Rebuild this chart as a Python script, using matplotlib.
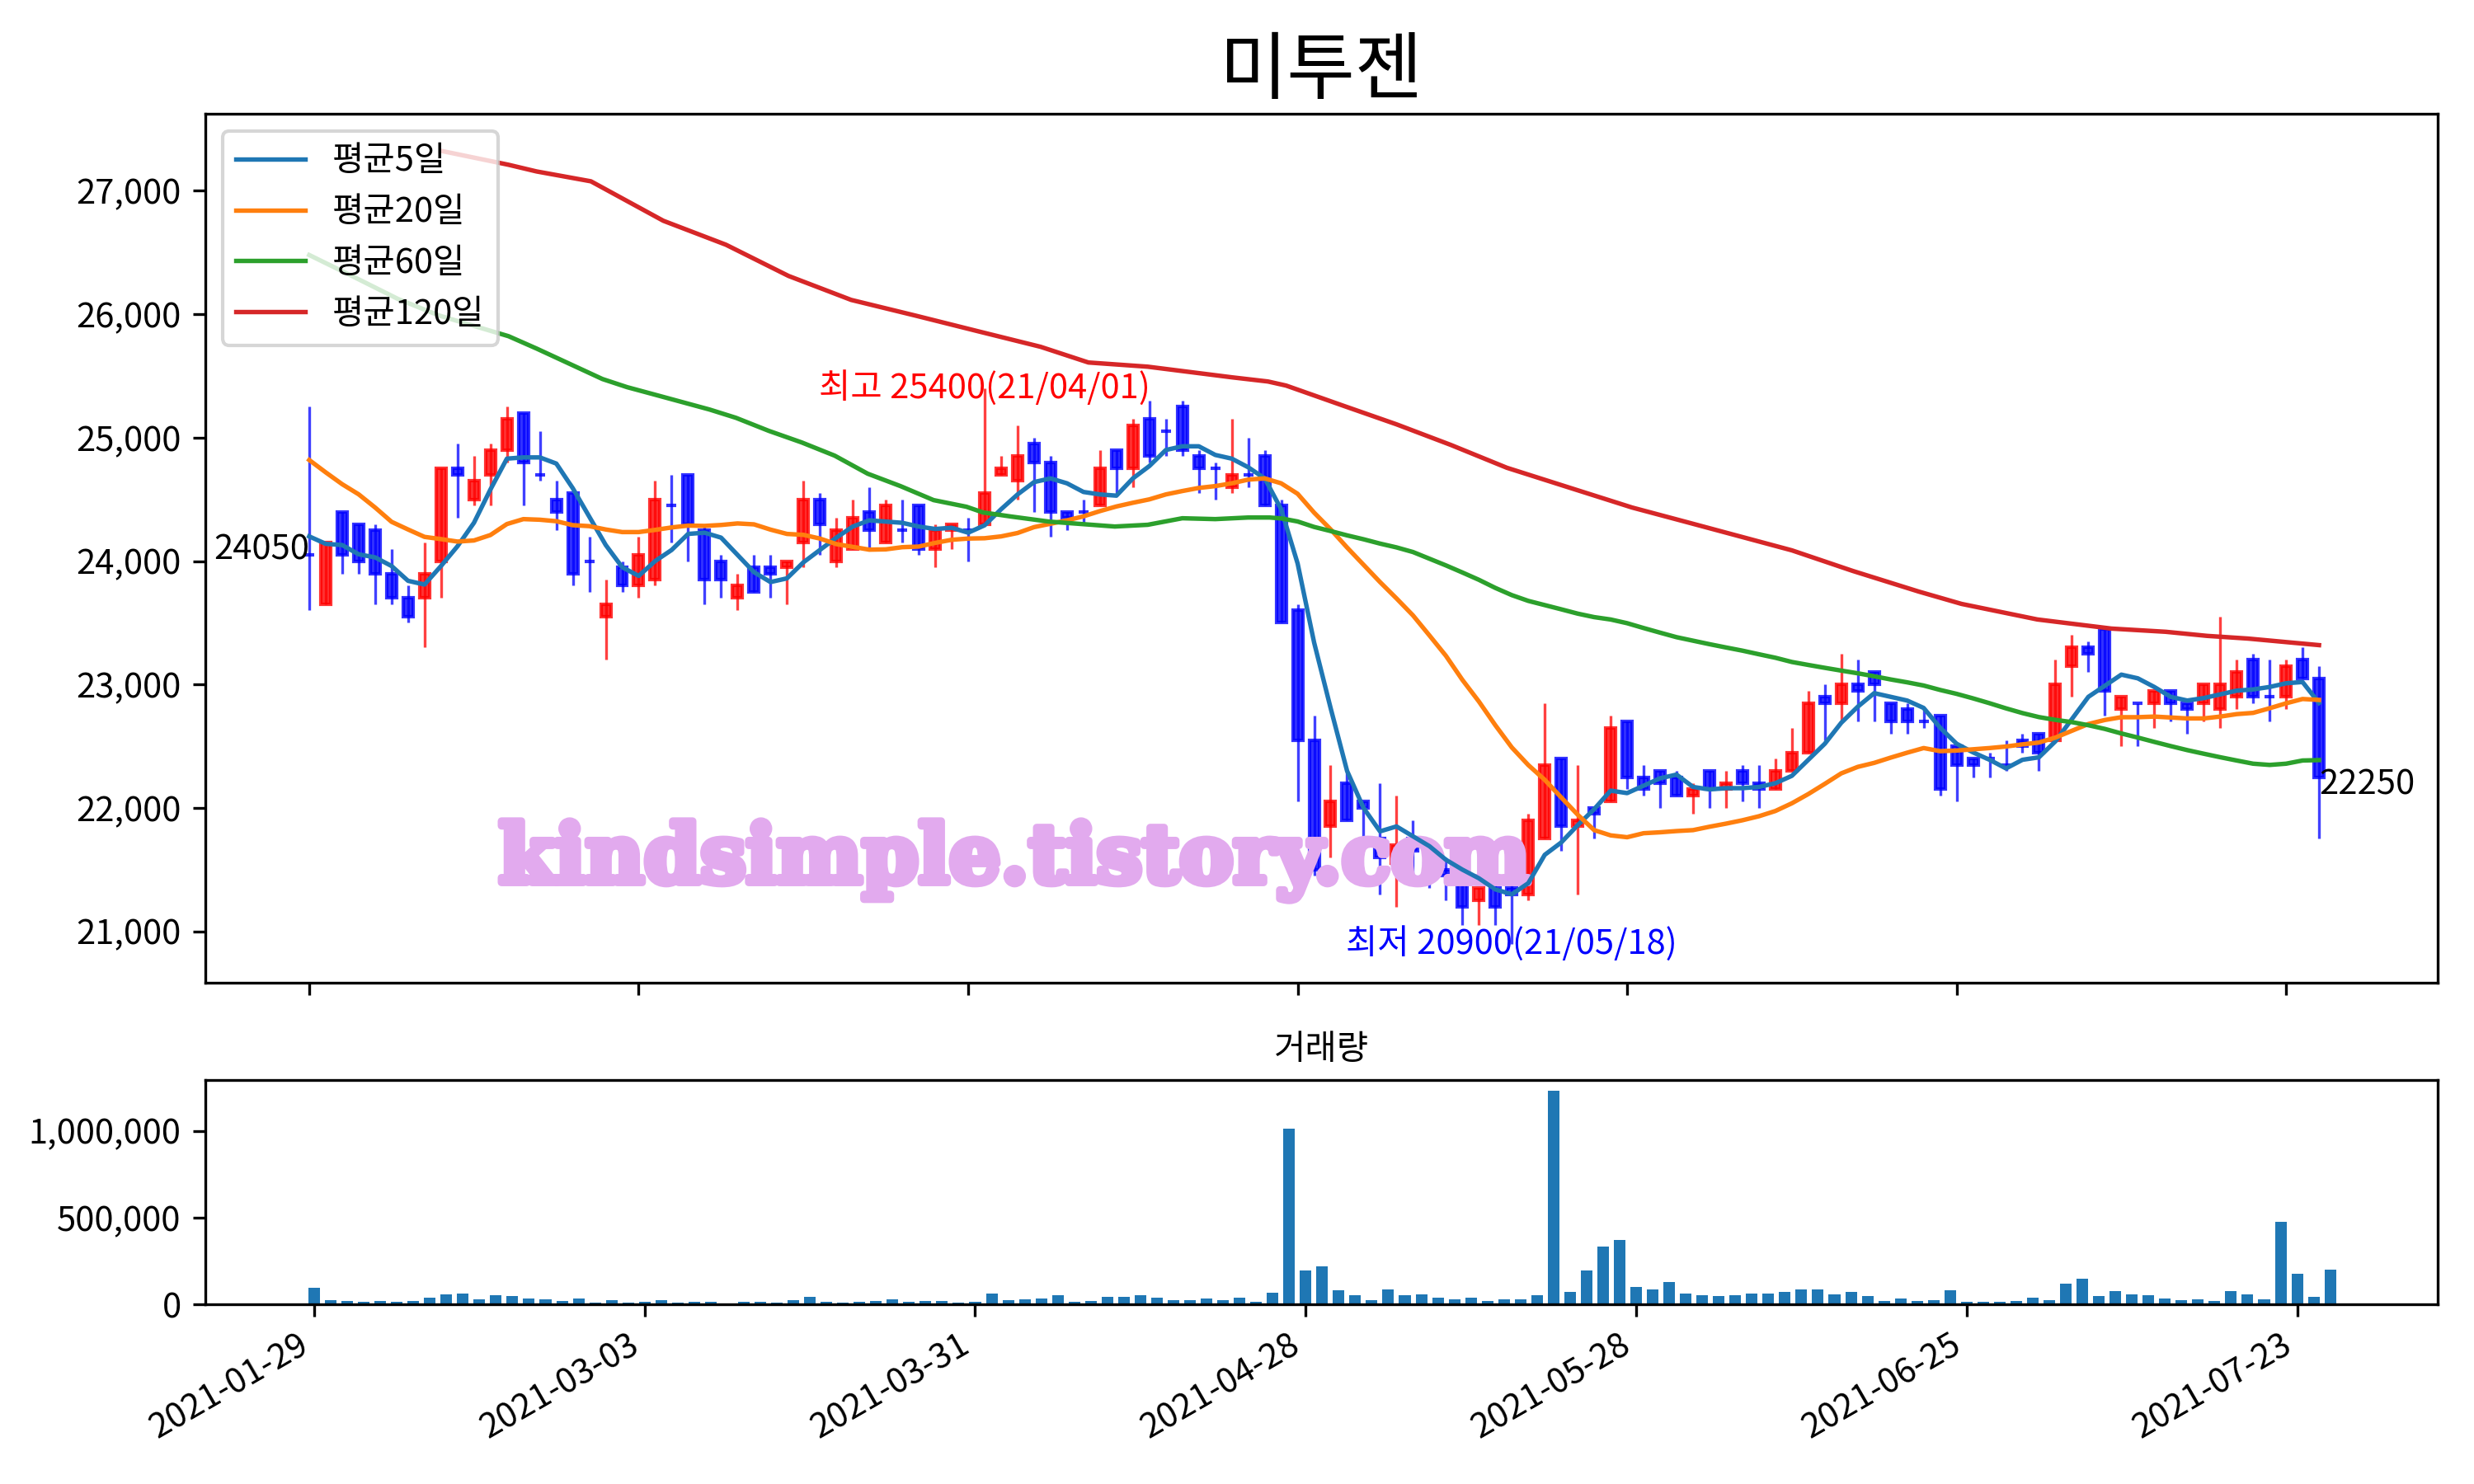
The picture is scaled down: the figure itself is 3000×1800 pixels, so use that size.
import matplotlib
matplotlib.use('Agg')
import matplotlib.pyplot as plt
import matplotlib.patheffects as pe
import numpy as np
import pandas as pd
from matplotlib.ticker import FuncFormatter

plt.rcParams['font.family'] = ['Noto Sans CJK KR', 'DejaVu Sans']
plt.rcParams['axes.unicode_minus'] = False

title = '미투젠'
vol_title = '거래량'
tick_pos = [0, 20, 40, 60, 80, 100, 120]
tick_labels = ['2021-01-29', '2021-03-03', '2021-03-31', '2021-04-28',
               '2021-05-28', '2021-06-25', '2021-07-23']

opens = [24050, 23650, 24400, 24300, 24250, 23900, 23700, 23700, 24000, 24750,
         24500, 24700, 24900, 25200, 24700, 24500, 24550, 24000, 23550, 23950,
         23800, 23850, 24450, 24700, 24250, 24000, 23700, 23950, 23950, 23950,
         24150, 24500, 24000, 24100, 24400, 24150, 24250, 24450, 24100, 24250,
         24250, 24300, 24700, 24650, 24950, 24800, 24400, 24400, 24450, 24900,
         24750, 25150, 25050, 25250, 24850, 24750, 24600, 24700, 24850, 24450,
         23600, 22550, 21850, 22200, 22050, 21750, 21550, 21750, 21550, 21500,
         21400, 21250, 21350, 21350, 21300, 21750, 22400, 21850, 22000, 22050,
         22700, 22250, 22300, 22250, 22100, 22300, 22150, 22300, 22200, 22150,
         22300, 22450, 22900, 22850, 23000, 23100, 22850, 22800, 22700, 22750,
         22500, 22400, 22400, 22350, 22550, 22600, 22550, 23150, 23300, 23450,
         22800, 22850, 22850, 22950, 22850, 22850, 22800, 22900, 23200, 22900,
         22900, 23200, 23050]

highs = [25250, 24150, 24400, 24300, 24300, 24100, 23800, 24150, 24750, 24950,
         24850, 24950, 25250, 25200, 25050, 24650, 24550, 24200, 23850, 24000,
         24200, 24650, 24700, 24700, 24300, 24050, 23900, 24050, 24050, 24000,
         24650, 24550, 24350, 24500, 24600, 24500, 24500, 24450, 24300, 24300,
         24350, 25400, 24850, 25100, 25000, 24850, 24400, 24500, 24900, 24900,
         25150, 25300, 25150, 25300, 24900, 24800, 25150, 25000, 24900, 24500,
         23650, 22750, 22350, 22300, 22050, 22200, 22100, 21900, 21700, 21600,
         21450, 21350, 21400, 21400, 21950, 22850, 22400, 22350, 22000, 22750,
         22700, 22350, 22300, 22300, 22200, 22300, 22300, 22350, 22350, 22400,
         22650, 22950, 23000, 23250, 23200, 23100, 22850, 22850, 22800, 22750,
         22500, 22400, 22450, 22550, 22600, 22600, 23200, 23400, 23350, 23450,
         22900, 22850, 22950, 22950, 22850, 23000, 23550, 23200, 23250, 23200,
         23200, 23300, 23150]

lows = [23600, 23650, 23900, 23900, 23650, 23650, 23500, 23300, 23700, 24350,
        24450, 24450, 24800, 24450, 24650, 24250, 23800, 23750, 23200, 23750,
        23700, 23800, 24150, 24000, 23650, 23700, 23600, 23750, 23700, 23650,
        23950, 24050, 23950, 24100, 24100, 24150, 24150, 24050, 23950, 24100,
        24000, 24300, 24700, 24500, 24400, 24200, 24250, 24300, 24450, 24550,
        24600, 24800, 24850, 24850, 24550, 24500, 24550, 24600, 24450, 23500,
        22050, 21450, 21600, 21900, 21650, 21300, 21200, 21450, 21350, 21250,
        21050, 21050, 21050, 20900, 21250, 21750, 21650, 21300, 21750, 22050,
        22150, 22100, 22000, 22100, 21950, 22000, 22000, 22050, 22000, 22150,
        22300, 22450, 22550, 22700, 22700, 22700, 22600, 22600, 22650, 22100,
        22050, 22250, 22250, 22300, 22450, 22300, 22550, 22900, 23100, 22750,
        22500, 22500, 22650, 22700, 22600, 22700, 22650, 22800, 22850, 22700,
        22800, 23050, 21750]

closes = [24050, 24150, 24050, 24000, 23900, 23700, 23550, 23900, 24750, 24700,
          24650, 24900, 25150, 24800, 24700, 24400, 23900, 24000, 23650, 23800,
          24050, 24500, 24450, 24300, 23850, 23850, 23800, 23750, 23900, 24000,
          24500, 24300, 24250, 24350, 24250, 24450, 24250, 24100, 24250, 24300,
          24250, 24550, 24750, 24850, 24800, 24400, 24350, 24400, 24750, 24750,
          25100, 24850, 25050, 24900, 24750, 24750, 24700, 24700, 24450, 23500,
          22550, 21500, 22050, 21900, 22000, 21600, 21700, 21650, 21500, 21450,
          21200, 21350, 21200, 21300, 21900, 22350, 21850, 21900, 21950, 22650,
          22250, 22150, 22200, 22100, 22150, 22150, 22200, 22200, 22150, 22300,
          22450, 22850, 22850, 23000, 22950, 23000, 22700, 22700, 22700, 22150,
          22350, 22350, 22400, 22350, 22500, 22450, 23000, 23300, 23250, 22950,
          22900, 22850, 22950, 22850, 22800, 23000, 23000, 23100, 22900, 22900,
          23150, 23050, 22250]

volumes = [96000, 25000, 20000, 16000, 20000, 16000, 20000, 39000, 58000, 63000,
           30000, 53000, 49000, 35000, 30000, 20000, 35000, 11000, 25000, 11000,
           16000, 25000, 11000, 16000, 16000, 6000, 16000, 16000, 11000, 25000,
           44000, 16000, 11000, 16000, 20000, 30000, 16000, 20000, 20000, 11000,
           16000, 63000, 25000, 30000, 35000, 53000, 16000, 20000, 44000, 44000,
           53000, 39000, 25000, 25000, 35000, 25000, 39000, 16000, 67000, 1013000,
           195000, 218000, 82000, 53000, 25000, 86000, 53000, 58000, 39000, 30000,
           39000, 20000, 30000, 30000, 53000, 1230000, 72000, 195000, 331000, 373000,
           100000, 86000, 129000, 63000, 53000, 49000, 53000, 63000, 63000, 72000,
           86000, 86000, 58000, 72000, 49000, 20000, 35000, 20000, 25000, 82000,
           16000, 16000, 16000, 20000, 39000, 25000, 119000, 147000, 49000, 77000,
           58000, 53000, 35000, 25000, 30000, 20000, 77000, 58000, 30000, 477000,
           176000, 44000, 199000]

ma5_head_x = [0, 1, 2, 3]
ma5_head = [24200, 24140, 24130, 24055]
ma20_head_x = list(range(19))
ma20_head = [24819, 24719, 24623, 24541, 24434, 24318, 24256, 24196, 24178, 24158,
             24167, 24211, 24300, 24340, 24335, 24323, 24291, 24283, 24256]
ma60_head_x = [0, 2.4, 5.4, 7.9, 12.1, 13.8, 17.8, 19.3, 20.8, 24.3, 25.9, 27.9,
               29.9, 31.9, 33.9, 35.9, 37.9, 39.9, 40.9, 42.6, 44.9, 48.9, 50.9,
               53.0, 55.0, 57.0, 58.3]
ma60_head = [26480, 26323, 26123, 25989, 25822, 25722, 25475, 25409, 25355, 25228,
             25161, 25055, 24961, 24854, 24708, 24607, 24494, 24440, 24394, 24361,
             24320, 24280, 24294, 24347, 24340, 24353, 24353]
ma120_x = [8.0, 12.1, 13.8, 17.1, 21.5, 25.3, 29.1, 32.9, 36.8, 40.6, 44.4, 47.3,
           50.9, 56.0, 58.2, 59.3, 61.3, 62.7, 66.0, 69.3, 72.7, 76.0, 80.3, 83.5,
           90.0, 93.7, 97.7, 100.3, 104.9, 109.4, 112.7, 115.2, 117.7, 122.0]
ma120 = [27324, 27211, 27157, 27077, 26757, 26563, 26310, 26116, 25989, 25862,
         25736, 25609, 25575, 25489, 25455, 25422, 25328, 25262, 25108, 24941,
         24756, 24616, 24434, 24320, 24087, 23920, 23753, 23653, 23527, 23453,
         23427, 23394, 23372, 23319]

high_text = '최고 25400(21/04/01)'
low_text = '최저 20900(21/05/18)'
watermark = 'kindsimple.tistory.com'

n = len(closes)
idx = np.arange(n)
cs = pd.Series(closes, dtype=float)


def ma_line(head_x, head_y, window):
    roll = cs.rolling(window).mean()
    start = window - 1
    xs = list(head_x) + list(idx[start:])
    ys = list(head_y) + list(roll.values[start:])
    return xs, ys


fig = plt.figure(figsize=(10, 6), dpi=300)
ax = fig.add_axes([0.0829, 0.3379, 0.9024, 0.5855])
ax2 = fig.add_axes([0.0829, 0.1211, 0.9024, 0.1509])

o = np.array(opens, float)
c = np.array(closes, float)
h = np.array(highs, float)
l = np.array(lows, float)
up = c > o
colors = np.where(up, 'red', 'blue')

ax.vlines(idx, l, h, colors=colors, linewidth=0.8, alpha=0.75, zorder=1)
ax.bar(idx, np.abs(c - o), bottom=np.minimum(o, c), width=0.6, color=colors,
       edgecolor=colors, linewidth=1.0, alpha=0.8, zorder=1.2)

x5, y5 = ma_line(ma5_head_x, ma5_head, 5)
x20, y20 = ma_line(ma20_head_x, ma20_head, 20)
x60, y60 = ma_line(ma60_head_x, ma60_head, 60)
lw = 1.3
ax.plot(x5, y5, color='C0', lw=lw, label='평균5일', zorder=3)
ax.plot(x20, y20, color='C1', lw=lw, label='평균20일', zorder=3)
ax.plot(x60, y60, color='C2', lw=lw, label='평균60일', zorder=3)
ax.plot(ma120_x, ma120, color='C3', lw=lw, label='평균120일', zorder=3)

imax = int(np.argmax(h))
imin = int(np.argmin(l))
ax.text(imax, h[imax], high_text, color='red', ha='center', va='center', fontsize=10, zorder=4)
ax.text(imin, l[imin], low_text, color='blue', ha='center', va='center', fontsize=10, zorder=4)
ax.text(0, closes[0] + 40, f'{closes[0]}', ha='right', va='center', fontsize=10, zorder=4)
ax.text(n - 1, closes[-1] - 60, f'{closes[-1]}', ha='left', va='center', fontsize=10, zorder=4)

ax.text(0.410, 0.4198, watermark, transform=fig.transFigure, ha='center', va='center',
        fontsize=23.5, fontweight='bold', family='DejaVu Serif', color='#E2AAEE', zorder=2,
        path_effects=[pe.withStroke(linewidth=2.2, foreground='#E2AAEE')])

ax.set_xlim(-6.32, 129.2)
ax.set_ylim(20585, 27625)
ax.set_xticks(tick_pos)
ax.tick_params(labelbottom=False)
ax.yaxis.set_major_formatter(FuncFormatter(lambda v, p: f'{v:,.0f}'))
ax.set_title(title, fontsize=21.5)
ax.legend(loc='upper left')

ax2.bar(idx, volumes, width=0.7, color='C0')
ax2.set_xlim(-6.6, 128.5)
ax2.set_ylim(0, max(volumes) * 1.05)
ax2.set_yticks([0, 500000, 1000000])
ax2.yaxis.set_major_formatter(FuncFormatter(lambda v, p: f'{v:,.0f}'))
ax2.set_xticks(tick_pos)
ax2.set_xticklabels(tick_labels, rotation=30, ha='right')
ax2.set_title(vol_title, fontsize=10)

fig.savefig('out.png', dpi=300)
